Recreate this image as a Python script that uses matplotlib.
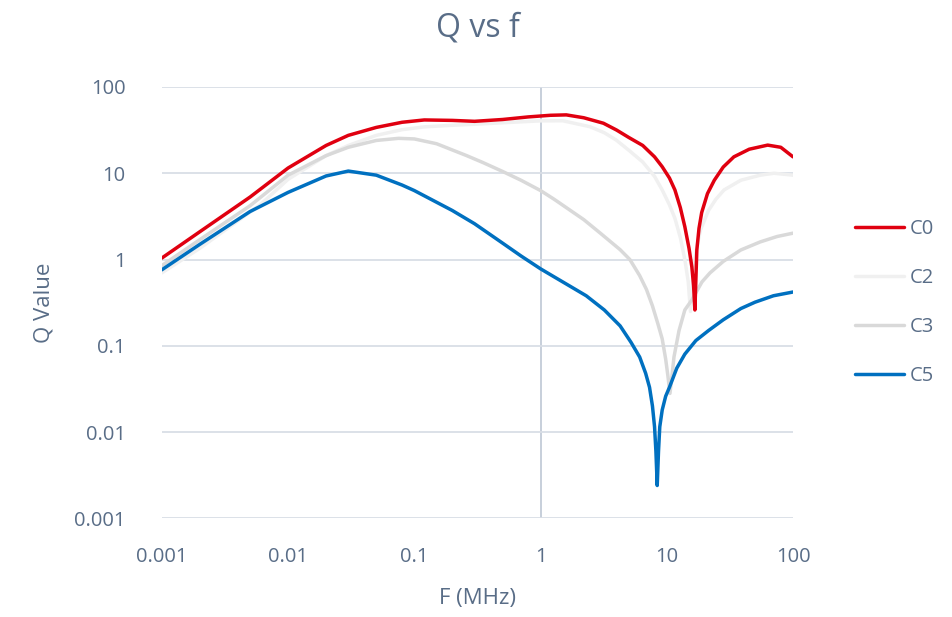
import matplotlib.pyplot as plt

# Q value vs frequency (MHz)
f_c0 = [0.001, 0.002, 0.005, 0.01, 0.02, 0.03, 0.05, 0.08, 0.12, 0.2, 0.3, 0.5, 0.8, 1.2, 1.6,
        2.2, 3.15, 4.0, 5.0, 6.45, 8.0, 9.2, 10.5, 11.6, 12.8, 13.9, 15.0, 15.8, 16.3, 16.7,
        17.3, 18.0, 18.9, 21.0, 23.8, 28.0, 34.0, 45.0, 63.0, 80.0, 100.0]
q_c0 = [1.04, 2.1, 5.3, 11.5, 21.0, 27.5, 34.0, 39.0, 41.5, 41.0, 40.0, 42.0, 45.0, 47.0, 47.5,
        44.0, 38.0, 31.7, 26.0, 21.0, 15.5, 11.9, 8.8, 6.4, 4.0, 2.4, 1.35, 0.82, 0.5, 0.26,
        1.29, 2.3, 3.5, 5.8, 8.3, 11.8, 15.5, 19.0, 21.2, 20.0, 15.5]

f_c2 = [0.001, 0.002, 0.004, 0.006, 0.01, 0.02, 0.03, 0.05, 0.08, 0.12, 0.2, 0.3, 0.5, 1.0, 1.5,
        2.45, 3.2, 3.97, 5.0, 6.45, 8.0, 9.2, 10.5, 11.6, 12.8, 13.9, 14.8, 15.4,
        16.2, 16.7, 17.5, 18.5, 21.4, 24.5, 28.4, 38.6, 55.0, 70.6, 100.0]
q_c2 = [0.7, 1.35, 2.8, 4.3, 8.5, 16.0, 21.0, 27.5, 32.0, 34.5, 36.0, 37.0, 38.5, 40.5, 40.6,
        34.7, 29.5, 24.3, 18.5, 13.5, 9.2, 6.4, 4.3, 3.0, 1.8, 1.0, 0.55, 0.25,
        0.6, 1.0, 1.5, 2.2, 3.7, 5.0, 6.4, 8.3, 9.5, 10.0, 9.5]

f_c3 = [0.001, 0.002, 0.005, 0.01, 0.02, 0.03, 0.05, 0.075, 0.1, 0.15, 0.26, 0.35, 0.5, 0.7,
        1.0, 1.28, 2.2, 3.0, 4.27, 5.1, 6.1, 6.9, 7.7, 8.5, 9.2, 9.8, 10.2, 10.6, 11.0, 11.4,
        12.5, 13.9, 15.8, 19.0, 22.0, 28.0, 38.6, 55.0, 75.0, 100.0]
q_c3 = [0.85, 1.7, 4.2, 9.5, 16.0, 20.0, 24.0, 25.4, 25.0, 22.0, 16.0, 13.3, 10.5, 8.3,
        6.3, 5.0, 2.9, 2.0, 1.3, 1.0, 0.65, 0.45, 0.29, 0.18, 0.12, 0.07, 0.045, 0.028, 0.045,
        0.074, 0.15, 0.26, 0.34, 0.55, 0.7, 0.95, 1.29, 1.6, 1.85, 2.02]

f_c5 = [0.001, 0.002, 0.005, 0.01, 0.02, 0.03, 0.05, 0.08, 0.1, 0.2, 0.3, 0.5, 0.7, 1.0, 1.28,
        1.6, 2.3, 3.2, 4.27, 5.2, 6.1, 6.8, 7.3, 7.7, 8.0, 8.2, 8.4, 8.6, 8.8, 9.2, 9.8,
        10.5, 12.0, 13.9, 17.0, 21.4, 28.0, 38.6, 50.0, 70.0, 100.0]
q_c5 = [0.76, 1.5, 3.6, 6.0, 9.3, 10.6, 9.5, 7.3, 6.3, 3.7, 2.6, 1.55, 1.1, 0.78, 0.63,
        0.52, 0.38, 0.26, 0.17, 0.11, 0.074, 0.048, 0.033, 0.02, 0.0115, 0.006, 0.0024, 0.006,
        0.0115, 0.018, 0.026, 0.033, 0.055, 0.08, 0.115, 0.15, 0.2, 0.27, 0.32, 0.38, 0.42]

series = ['C0', 'C2', 'C3', 'C5']
colors = ['#E00010', '#F0F0F0', '#D9D9D9', '#0070C0']
text_col = '#596D87'
grid_col = '#D9DEE6'

plt.rcParams['font.family'] = ['Open Sans', 'DejaVu Sans']

fig = plt.figure(figsize=(9.52, 6.17), dpi=100)
ax = fig.add_axes([0.170, 0.160, 0.663, 0.699])

data = [(f_c0, q_c0), (f_c2, q_c2), (f_c3, q_c3), (f_c5, q_c5)]
zorders = [6, 3, 4, 5]
for (f, q), name, c, z in zip(data, series, colors, zorders):
    ax.plot(f, q, color=c, lw=2.5, label=name, zorder=z, solid_capstyle='round',
            solid_joinstyle='round')

ax.set_xscale('log')
ax.set_yscale('log')
ax.set_xlim(0.001, 100)
ax.set_ylim(0.001, 100)

xt = [0.001, 0.01, 0.1, 1, 10, 100]
yt = [0.001, 0.01, 0.1, 1, 10, 100]
ax.set_xticks(xt)
ax.set_xticklabels(['0.001', '0.01', '0.1', '1', '10', '100'])
ax.set_yticks(yt)
ax.set_yticklabels(['0.001', '0.01', '0.1', '1', '10', '100'])
ax.minorticks_off()
ax.tick_params(axis='both', length=0, labelsize=14.5, colors=text_col)
ax.tick_params(axis='x', pad=21)
ax.tick_params(axis='y', pad=26)

for s in ax.spines.values():
    s.set_visible(False)
ax.grid(True, axis='y', color=grid_col, lw=1.3, zorder=0)
ax.axvline(1, color='#C3CBD8', lw=1.3, zorder=1)

ax.set_xlabel('F (MHz)', fontsize=16, color=text_col, labelpad=15)
ax.set_ylabel('Q Value', fontsize=16, color=text_col, labelpad=14)
ax.set_title('Q vs f', fontsize=23, color=text_col, pad=36)

leg = ax.legend(loc='center left', bbox_to_anchor=(1.07, 0.5), frameon=False,
                fontsize=14.5, handlelength=2.4, handletextpad=0.3, labelspacing=1.45)
for t in leg.get_texts():
    t.set_color(text_col)

fig.savefig('out.png', dpi=100)
